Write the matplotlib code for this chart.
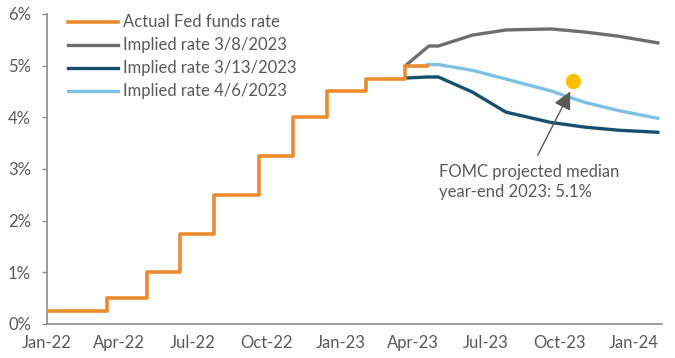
import pandas as pd
import matplotlib
matplotlib.use("Agg")
import matplotlib.pyplot as plt
import matplotlib.dates as mdates
from matplotlib.ticker import FuncFormatter

# actual fed funds rate (upper bound), change dates
fed_dates = ["2022-01-01", "2022-03-17", "2022-05-05", "2022-06-16", "2022-07-28",
             "2022-09-22", "2022-11-03", "2022-12-15", "2023-02-02", "2023-03-23",
             "2023-04-19"]
fed_rate = [0.25, 0.5, 1.0, 1.75, 2.5, 3.25, 4.0, 4.5, 4.75, 5.0, 5.0]

# market implied rates
imp_0308_dates = ["2023-03-23", "2023-04-21", "2023-05-03", "2023-06-14", "2023-07-26",
                  "2023-09-20", "2023-11-01", "2023-12-13", "2024-01-31"]
imp_0308 = [5.0, 5.38, 5.38, 5.59, 5.69, 5.71, 5.65, 5.57, 5.44]

imp_0313_dates = ["2023-03-23", "2023-04-19", "2023-05-03", "2023-06-14", "2023-07-26",
                  "2023-09-20", "2023-11-01", "2023-12-13", "2024-01-31"]
imp_0313 = [4.76, 4.78, 4.78, 4.49, 4.10, 3.90, 3.81, 3.75, 3.71]

imp_0406_dates = ["2023-04-19", "2023-05-03", "2023-06-14", "2023-07-26",
                  "2023-09-20", "2023-11-01", "2023-12-13", "2024-01-31"]
imp_0406 = [5.02, 5.02, 4.91, 4.74, 4.51, 4.29, 4.13, 3.98]

fomc_date = "2023-10-18"
fomc_val = 4.70

plt.rcParams['font.family'] = ['Lato', 'DejaVu Sans']
txt = '#595959'
fs = 12

fig = plt.figure(figsize=(6.75, 3.58), dpi=100)
ax = fig.add_axes([0.0696, 0.095, 0.911, 0.866])

ax.plot(pd.to_datetime(fed_dates), fed_rate, drawstyle='steps-post', color='#EC8B2C',
        lw=2.6, label='Actual Fed funds rate', zorder=3)
ax.plot(pd.to_datetime(imp_0308_dates), imp_0308, color='#6E6E6E', lw=2.4,
        label='Implied rate 3/8/2023')
ax.plot(pd.to_datetime(imp_0313_dates), imp_0313, color='#17506F', lw=2.4,
        label='Implied rate 3/13/2023')
ax.plot(pd.to_datetime(imp_0406_dates), imp_0406, color='#7EC0E2', lw=2.4,
        label='Implied rate 4/6/2023')

ax.plot(pd.to_datetime([fomc_date]), [fomc_val], 'o', color='#FFC000', ms=10, zorder=4)
ax.annotate('FOMC projected median\nyear-end 2023: 5.1%',
            xy=(pd.Timestamp('2023-10-14'), 4.50), xytext=(pd.Timestamp('2023-05-04'), 2.75),
            color=txt, fontsize=fs, ha='left', va='center', linespacing=1.25,
            arrowprops=dict(arrowstyle='-|>,head_length=0.9,head_width=0.45', color='#595959',
                            lw=1, shrinkA=5, shrinkB=0, relpos=(0.52, 1.0)))

ax.set_xlim(pd.Timestamp('2022-01-01'), pd.Timestamp('2024-02-05'))
ax.set_ylim(0, 6)
ax.xaxis.set_major_locator(mdates.MonthLocator(bymonth=[1, 4, 7, 10]))
ax.xaxis.set_major_formatter(mdates.DateFormatter('%b-%y'))
ax.yaxis.set_major_formatter(FuncFormatter(lambda v, p: f'{v:.0f}%'))

for s in ['top', 'right']:
    ax.spines[s].set_visible(False)
for s in ['left', 'bottom']:
    ax.spines[s].set_color('#8C8C8C')
    ax.spines[s].set_linewidth(1.2)
ax.tick_params(axis='x', length=0, pad=8, labelsize=fs, labelcolor=txt)
ax.tick_params(axis='y', length=3.5, width=1, color='#8C8C8C', pad=8, labelsize=fs,
               labelcolor=txt)

leg = ax.legend(loc='upper left', bbox_to_anchor=(0.024, 1.02), frameon=False, fontsize=fs,
                handlelength=3.0, handletextpad=0.3, labelspacing=0.42, borderaxespad=0)
for t in leg.get_texts():
    t.set_color(txt)

fig.savefig('out.png', dpi=100)
